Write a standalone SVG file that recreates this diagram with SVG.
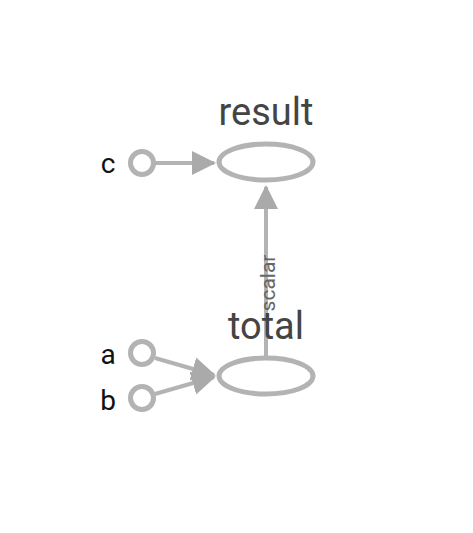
<svg xmlns="http://www.w3.org/2000/svg" width="473" height="533" viewBox="0 0 473 533">
<style>
.node{fill:none;stroke:#b3b3b3;stroke-width:5}
.edge{stroke:#b3b3b3;stroke-width:4;fill:none}
.title{font-family:Roboto,"Liberation Sans",sans-serif;font-size:38px;fill:#444;text-anchor:middle}
.lbl{font-family:Roboto,"Liberation Sans",sans-serif;font-size:28px;fill:#111;text-anchor:middle}
.elbl{font-family:Roboto,"Liberation Sans",sans-serif;font-size:21px;fill:#666;text-anchor:middle}
</style>
<defs>
<marker id="arr" markerWidth="6" markerHeight="6" refX="5.5" refY="3" orient="auto" markerUnits="strokeWidth">
<path d="M0,0 L6,3 L0,6 Z" fill="#aaaaaa"/>
</marker>
</defs>
<rect width="473" height="533" fill="#fff"/>
<g id="connectors">
<line class="edge" x1="155" y1="163" x2="214" y2="163" marker-end="url(#arr)"/>
<line class="edge" x1="155" y1="358" x2="214" y2="375" marker-end="url(#arr)"/>
<line class="edge" x1="155" y1="394" x2="214" y2="377" marker-end="url(#arr)"/>
<line class="edge" x1="266" y1="356" x2="266" y2="187" marker-end="url(#arr)"/>
<text class="elbl" transform="translate(275,283) rotate(-90)">scalar</text>
</g>
<g id="result">
<ellipse class="node" cx="266" cy="162" rx="47" ry="18"/>
<text class="title" x="266" y="125">result</text>
</g>
<g id="total">
<ellipse class="node" cx="266" cy="376" rx="47" ry="18"/>
<text class="title" x="266" y="339">total</text>
</g>
<g id="c">
<circle class="node" cx="142" cy="163" r="11.5"/>
<text class="lbl" x="108" y="173">c</text>
</g>
<g id="a">
<circle class="node" cx="142" cy="353" r="11.5"/>
<text class="lbl" x="108" y="364">a</text>
</g>
<g id="b">
<circle class="node" cx="142" cy="398" r="11.5"/>
<text class="lbl" x="108" y="410">b</text>
</g>
</svg>
